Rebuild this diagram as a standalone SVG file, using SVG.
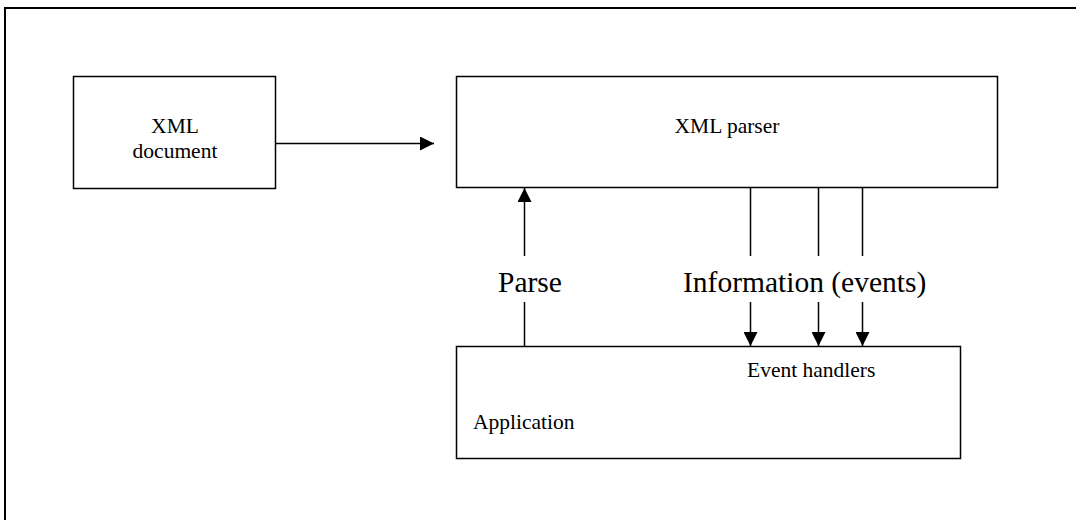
<svg xmlns="http://www.w3.org/2000/svg" width="1076" height="520" viewBox="0 0 1076 520">
<defs>
<marker id="ah" markerWidth="14" markerHeight="14" refX="14" refY="7" orient="auto" markerUnits="userSpaceOnUse">
<path d="M0,0 L14,7 L0,14 Z" fill="#000"/>
</marker>
<style>
.box{fill:#fff;stroke:#000;stroke-width:1.5}
.ln{stroke:#000;stroke-width:1.5;fill:none}
.fr{stroke:#000;stroke-width:2;fill:none}
.t{font-family:"Liberation Serif","Times New Roman",serif;fill:#000}
.s{font-size:21.5px}
.b{font-size:29.5px}
</style>
</defs>
<rect x="0" y="0" width="1076" height="520" fill="#fff"/>
<g id="frame">
<path class="fr" d="M5,540 L5,8 L1080,8"/>
</g>
<g id="xml-document">
<rect class="box" x="73.5" y="76.5" width="202" height="112"/>
<text class="t s" x="175" y="133" text-anchor="middle">XML</text>
<text class="t s" x="175" y="158" text-anchor="middle">document</text>
</g>
<g id="xml-parser">
<rect class="box" x="456.5" y="76.5" width="541" height="111"/>
<text class="t s" x="727" y="133" text-anchor="middle">XML parser</text>
</g>
<g id="application">
<rect class="box" x="456.5" y="346.5" width="504" height="112"/>
<text class="t s" x="747" y="377">Event handlers</text>
<text class="t s" x="473" y="429">Application</text>
</g>
<g id="connectors">
<line class="ln" x1="276" y1="143.5" x2="434" y2="143.5" marker-end="url(#ah)"/>
<line class="ln" x1="524.5" y1="346" x2="524.5" y2="302"/>
<line class="ln" x1="524.5" y1="256" x2="524.5" y2="188" marker-end="url(#ah)"/>
<line class="ln" x1="750.5" y1="188" x2="750.5" y2="256"/>
<line class="ln" x1="750.5" y1="302" x2="750.5" y2="346" marker-end="url(#ah)"/>
<line class="ln" x1="818.5" y1="188" x2="818.5" y2="256"/>
<line class="ln" x1="818.5" y1="302" x2="818.5" y2="346" marker-end="url(#ah)"/>
<line class="ln" x1="862.5" y1="188" x2="862.5" y2="256"/>
<line class="ln" x1="862.5" y1="302" x2="862.5" y2="346" marker-end="url(#ah)"/>
<text class="t b" x="498" y="292">Parse</text>
<text class="t b" x="683" y="292">Information (events)</text>
</g>
</svg>
